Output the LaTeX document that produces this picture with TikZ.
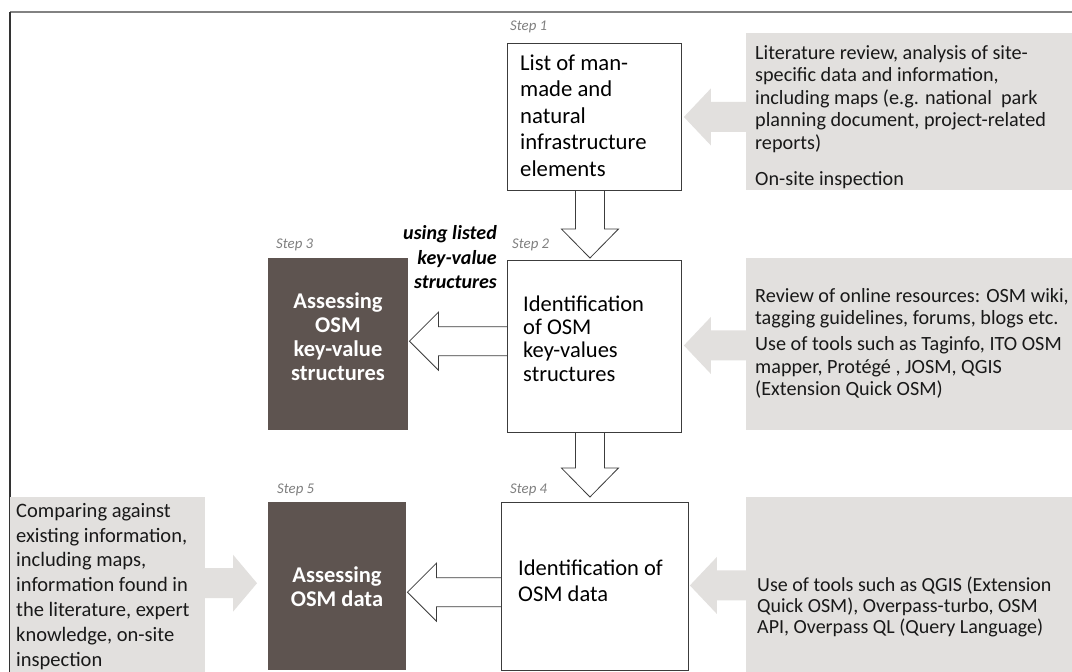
\documentclass[tikz,border=0pt]{standalone}
\usepackage{fontspec}
\setmainfont{Carlito}
\usetikzlibrary{calc}
\definecolor{boxgray}{RGB}{226,224,222}
\definecolor{darkbox}{RGB}{94,84,80}
\definecolor{steptext}{RGB}{128,128,128}
\definecolor{lineclr}{RGB}{60,60,60}
\definecolor{framegray}{RGB}{130,130,130}
\newcommand\FS[2]{\fontsize{#1}{#2}\selectfont}
% gray arrow pointing left: #1 tip, #2 base
\newcommand\GArrL[2]{\fill[boxgray] ($(#2)+(1,-15)$) -- ($(#1)+(27,-15)$) -- ($(#1)+(27,-28.5)$) -- (#1) -- ($(#1)+(27,28.5)$) -- ($(#1)+(27,15)$) -- ($(#2)+(1,15)$) -- cycle;}
% gray arrow pointing right
\newcommand\GArrR[2]{\fill[boxgray] ($(#2)+(-1,-15)$) -- ($(#1)+(-24,-15)$) -- ($(#1)+(-24,-28.5)$) -- (#1) -- ($(#1)+(-24,28.5)$) -- ($(#1)+(-24,15)$) -- ($(#2)+(-1,15)$) -- cycle;}
% hollow arrow pointing left
\newcommand\HArrL[2]{\draw[hollow] ($(#2)+(0,-14.5)$) -- ($(#1)+(29,-14.5)$) -- ($(#1)+(29,-29)$) -- (#1) -- ($(#1)+(29,29)$) -- ($(#1)+(29,14.5)$) -- ($(#2)+(0,14.5)$);}
% hollow arrow pointing down
\newcommand\HArrD[2]{\draw[hollow] ($(#2)+(-14.5,0)$) -- ($(#1)+(-14.5,-29)$) -- ($(#1)+(-28.5,-29)$) -- (#1) -- ($(#1)+(28.5,-29)$) -- ($(#1)+(14.5,-29)$) -- ($(#2)+(14.5,0)$);}
\begin{document}
\begin{tikzpicture}[x=1pt,y=-1pt,
  whitebox/.style={draw=lineclr,fill=white,line width=0.9pt,inner sep=0pt,anchor=north west},
  darkbx/.style={fill=darkbox,inner sep=0pt,anchor=north west},
  graybx/.style={fill=boxgray,inner sep=0pt,anchor=north west},
  hollow/.style={draw=lineclr,line width=0.8pt,line join=miter},
  steplbl/.style={text=steptext,font=\FS{14.8}{17}\itshape,inner sep=0pt,anchor=west},
  boxtxt/.style={inner sep=0pt,align=left,anchor=north west,text=black},
  darktxt/.style={inner sep=0pt,align=center,anchor=north,text=white,font=\FS{22.5}{24}\bfseries},
  graytxt/.style={inner sep=0pt,align=left,anchor=north west,text=black!90,font=\FS{20.2}{22.5}},
]
\useasboundingbox (0,0) rectangle (1072,672);
\fill[white] (0,0) rectangle (1072,672);
% frame
\draw[framegray,line width=1.5pt] (10,12) -- (1072,12);
\draw[black!80,line width=1.3pt] (10,12) -- (10,672);

% boxes
\node[whitebox,minimum width=174pt,minimum height=147pt] (b1) at (507,43) {};
\node[whitebox,minimum width=174pt,minimum height=172pt] (b2) at (507,260) {};
\node[darkbx,minimum width=140pt,minimum height=172pt] (b3) at (268,258) {};
\node[whitebox,minimum width=187pt,minimum height=168pt] (b4) at (501,502) {};
\node[darkbx,minimum width=138pt,minimum height=168pt] (b5) at (268,502) {};
\node[graybx,minimum width=326pt,minimum height=157pt] (g1) at (746,33) {};
\node[graybx,minimum width=326pt,minimum height=172pt] (g2) at (746,258) {};
\node[graybx,minimum width=326pt,minimum height=175pt] (g3) at (746,497) {};
\node[graybx,minimum width=195pt,minimum height=175pt] (g4) at (10,497) {};

% step labels
\node[steplbl] (s1) at (510,27) {Step 1};
\node[steplbl] (s2) at (512,245) {Step 2};
\node[steplbl] (s3) at (276,245) {Step 3};
\node[steplbl] (s4) at (510,490) {Step 4};
\node[steplbl] (s5) at (277,490) {Step 5};

% box texts
\node[boxtxt,font=\FS{22.7}{26.5}] (t1) at (520,54.5) {List of man-\\made and\\natural\\infrastructure\\elements};
\node[boxtxt,font=\FS{22.5}{23.3}] (t2) at (523,295.5) {Identification\\of OSM\\key-values\\structures};
\node[darktxt] (t3) at (338,292.3) {Assessing\\OSM\\key-value\\structures};
\node[boxtxt,font=\FS{22.5}{26}] (t4) at (518,559.3) {Identification of\\OSM data};
\node[darktxt] (t5) at (337,566.3) {Assessing\\OSM data};

% gray texts
\node[graytxt] (gt1) at (755,45) {Literature review, analysis of site-\\specific data and information,\\including maps (e.g. national\ \ park\\planning document, project-related\\reports)\\[14pt]On-site inspection};
\node[graytxt] (gt2) at (755,288) {Review of online resources: OSM wiki,\\tagging guidelines, forums, blogs etc.\\[3.5pt]Use of tools such as Taginfo, ITO OSM\\mapper, Protégé , JOSM, QGIS\\(Extension Quick OSM)};
\node[graytxt,font=\FS{20}{21}] (gt3) at (757,576.5) {Use of tools such as QGIS (Extension\\Quick OSM), Overpass-turbo, OSM\\API, Overpass QL (Query Language)};
\node[graytxt,font=\FS{20.5}{24.8}] (gt4) at (16,503) {Comparing against\\existing information,\\including maps,\\information found in\\the literature, expert\\knowledge, on-site\\inspection};

% label
\node[inner sep=0pt,align=right,anchor=north east,font=\FS{20}{24.5}\bfseries\itshape] (lbl) at (497,225.5) {using listed\\key-value\\structures};

% gray arrows
\coordinate (a1t) at ($(b1.east)+(2,0)$);
\coordinate (a1b) at (g1.west |- a1t);
\GArrL{a1t}{a1b}
\coordinate (a2t) at ($(b2.east)+(2,-1)$);
\coordinate (a2b) at (g2.west |- a2t);
\GArrL{a2t}{a2b}
\coordinate (a3t) at ($(b4.east)+(1,-1)$);
\coordinate (a3b) at (g3.west |- a3t);
\GArrL{a3t}{a3b}
\coordinate (a4t) at ($(b5.west)+(-11,-3)$);
\coordinate (a4b) at (g4.east |- a4t);
\GArrR{a4t}{a4b}

% hollow arrows
\coordinate (h1b) at ($(b1.south)+(-4.5,0)$);
\coordinate (h1t) at ($(h1b |- b2.north)+(0,-2)$);
\HArrD{h1t}{h1b}
\coordinate (h2b) at ($(b2.south)+(-4.5,0)$);
\coordinate (h2t) at ($(h2b |- b4.north)+(0,-5)$);
\HArrD{h2t}{h2b}
\coordinate (h3t) at ($(b3.east)+(1,-3)$);
\coordinate (h3b) at (b2.west |- h3t);
\HArrL{h3t}{h3b}
\coordinate (h4t) at ($(b5.east)+(1,6)$);
\coordinate (h4b) at (b4.west |- h4t);
\HArrL{h4t}{h4b}
\end{tikzpicture}
\end{document}
